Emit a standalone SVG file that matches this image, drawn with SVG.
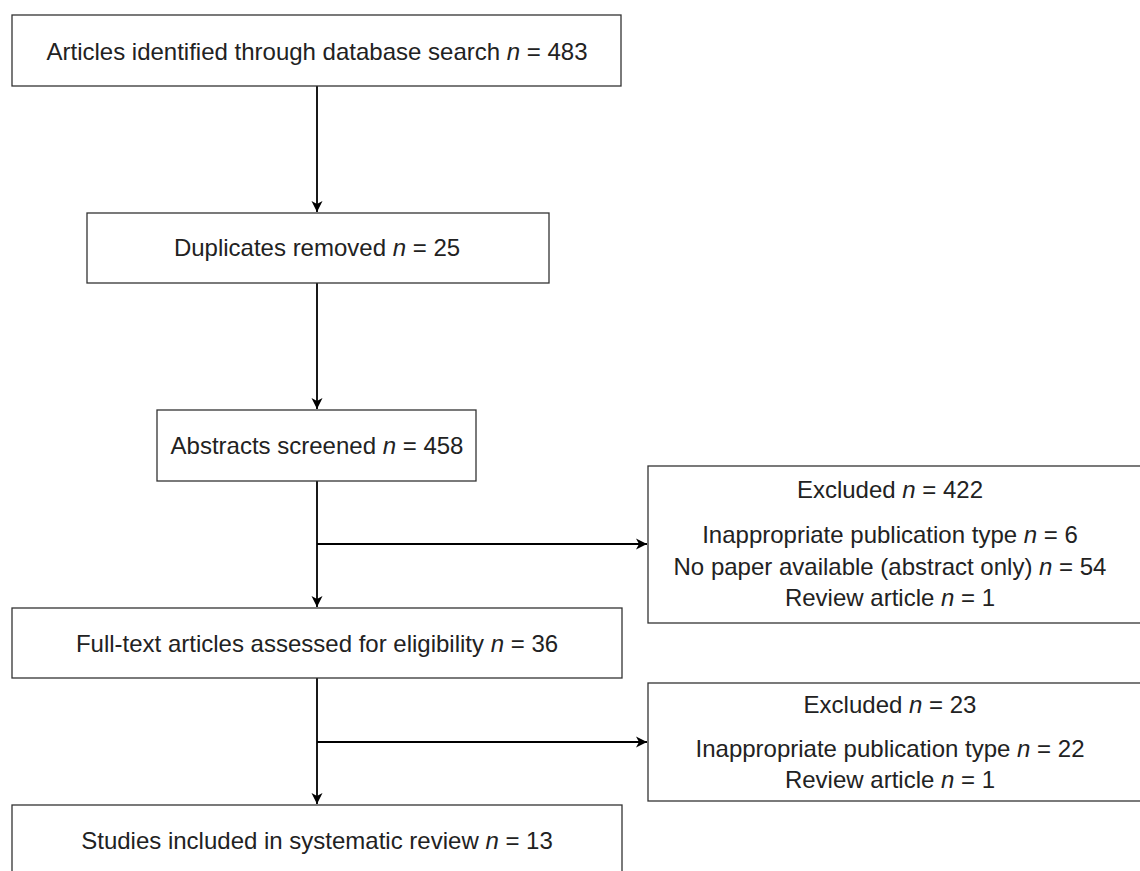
<svg xmlns="http://www.w3.org/2000/svg" width="1140" height="871" viewBox="0 0 1140 871">
<style>
.box{fill:#fff;stroke:#333;stroke-width:1.3}
.t{font-family:"Liberation Sans",Arial,sans-serif;font-size:24px;fill:#222;text-anchor:middle}
.i{font-style:italic}
.c{fill:none;stroke:#000;stroke-width:1.8}
</style>
<defs>
<marker id="ah" markerWidth="12" markerHeight="12" refX="11" refY="6" orient="auto" markerUnits="userSpaceOnUse">
<path d="M0,0.5 L11,6 L0,11.5 L3,6 z" fill="#000"/>
</marker>
</defs>
<rect width="1140" height="871" fill="#fff"/>
<g id="connectors">
<line class="c" x1="317" y1="86" x2="317" y2="212" marker-end="url(#ah)"/>
<line class="c" x1="317" y1="283" x2="317" y2="409" marker-end="url(#ah)"/>
<line class="c" x1="317" y1="481" x2="317" y2="607" marker-end="url(#ah)"/>
<line class="c" x1="317" y1="544" x2="647" y2="544" marker-end="url(#ah)"/>
<line class="c" x1="317" y1="678" x2="317" y2="804" marker-end="url(#ah)"/>
<line class="c" x1="317" y1="742" x2="647" y2="742" marker-end="url(#ah)"/>
</g>
<g id="n1">
<rect class="box" x="12" y="15" width="609" height="71"/>
<text class="t" x="317" y="60">Articles identified through database search <tspan class="i">n</tspan> = 483</text>
</g>
<g id="n2">
<rect class="box" x="87" y="213" width="462" height="70"/>
<text class="t" x="317" y="256">Duplicates removed <tspan class="i">n</tspan> = 25</text>
</g>
<g id="n3">
<rect class="box" x="157" y="410" width="319" height="71"/>
<text class="t" x="317" y="454">Abstracts screened <tspan class="i">n</tspan> = 458</text>
</g>
<g id="n4">
<rect class="box" x="12" y="608" width="610" height="70"/>
<text class="t" x="317" y="652">Full-text articles assessed for eligibility <tspan class="i">n</tspan> = 36</text>
</g>
<g id="n5">
<rect class="box" x="12" y="805" width="610" height="75"/>
<text class="t" x="317" y="849">Studies included in systematic review <tspan class="i">n</tspan> = 13</text>
</g>
<g id="n6">
<rect class="box" x="648" y="466" width="500" height="157"/>
<text class="t" x="890" y="498">Excluded <tspan class="i">n</tspan> = 422</text>
<text class="t" x="890" y="543">Inappropriate publication type <tspan class="i">n</tspan> = 6</text>
<text class="t" x="890" y="575">No paper available (abstract only) <tspan class="i">n</tspan> = 54</text>
<text class="t" x="890" y="606">Review article <tspan class="i">n</tspan> = 1</text>
</g>
<g id="n7">
<rect class="box" x="648" y="683" width="500" height="118"/>
<text class="t" x="890" y="713">Excluded <tspan class="i">n</tspan> = 23</text>
<text class="t" x="890" y="757">Inappropriate publication type <tspan class="i">n</tspan> = 22</text>
<text class="t" x="890" y="788">Review article <tspan class="i">n</tspan> = 1</text>
</g>
</svg>
